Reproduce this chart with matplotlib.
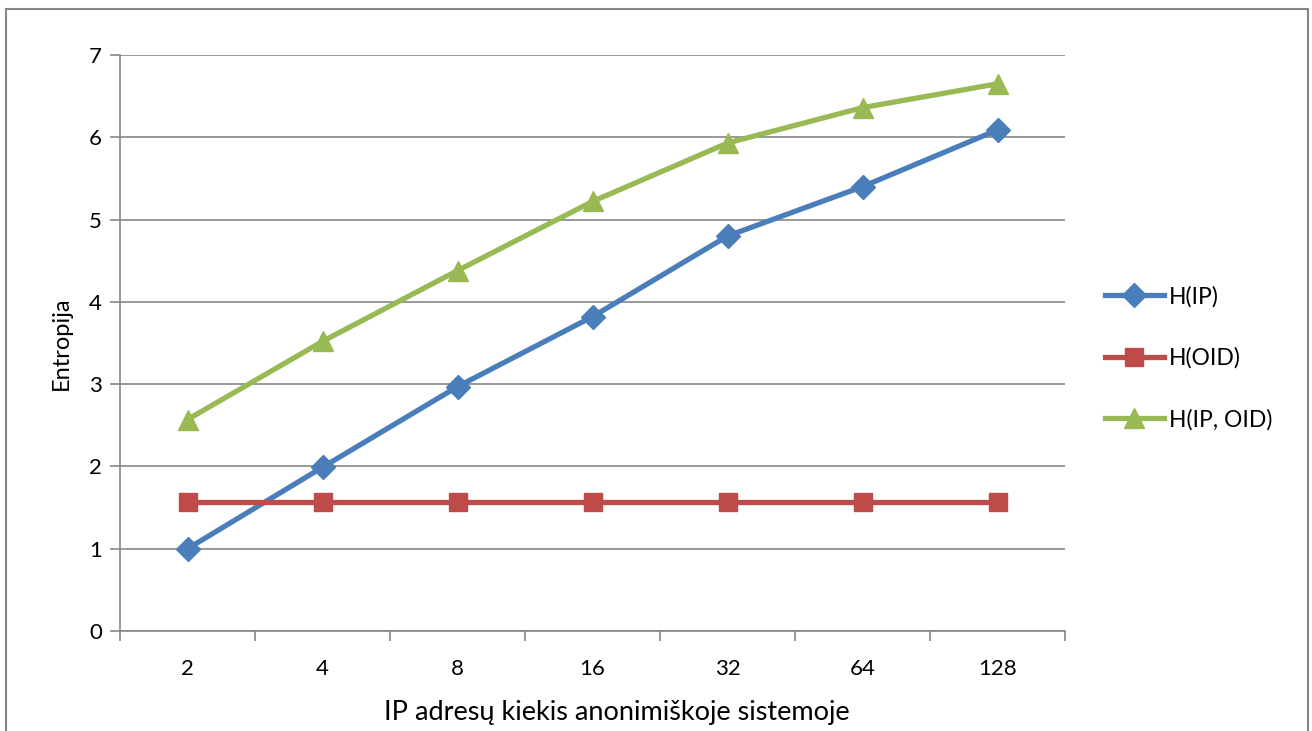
import matplotlib.pyplot as plt
from matplotlib.patches import Rectangle

plt.rcParams['font.family'] = ['Lato', 'DejaVu Sans']

ip_kiekis = ['2', '4', '8', '16', '32', '64', '128']
h_ip = [1.0, 1.99, 2.97, 3.82, 4.80, 5.40, 6.09]
h_oid = [1.57, 1.57, 1.57, 1.57, 1.57, 1.57, 1.57]
h_ip_oid = [2.57, 3.52, 4.38, 5.22, 5.93, 6.36, 6.65]

fig = plt.figure(figsize=(13.12, 7.31), dpi=100)
ax = fig.add_axes([0.0915, 0.1368, 0.7203, 0.788])

# chart border like Excel
fig.patches.append(Rectangle((6/1312, -0.05), 1302/1312, 1.05 - 9/731, transform=fig.transFigure,
                             fill=False, edgecolor='#868686', linewidth=1.5))

x = range(len(ip_kiekis))
ax.plot(x, h_ip, color='#4A7EBB', lw=3.8, marker='D', ms=12, label='H(IP)')
ax.plot(x, h_oid, color='#BE4B48', lw=3.8, marker='s', ms=13, label='H(OID)')
ax.plot(x, h_ip_oid, color='#98B954', lw=3.8, marker='^', ms=15, label='H(IP, OID)')

ax.set_xlim(-0.5, 6.5)
ax.set_ylim(0, 7)
ax.set_yticks(range(8))
ax.set_xticks(list(x))
ax.set_xticklabels(ip_kiekis)
ax.set_xticks([i - 0.5 for i in range(8)], minor=True)
ax.tick_params(axis='x', which='major', length=0, pad=20, labelsize=16)
ax.tick_params(axis='x', which='minor', length=7, color='#868686', width=1.2)
ax.tick_params(axis='y', length=7, color='#868686', width=1.2, labelsize=16, pad=6)
ax.grid(axis='y', color='#868686', lw=1.2)
ax.set_axisbelow(True)
for s in ['top', 'right']:
    ax.spines[s].set_visible(False)
for s in ['left', 'bottom']:
    ax.spines[s].set_color('#868686')
    ax.spines[s].set_linewidth(1.2)

ax.set_xlabel('IP adresų kiekis anonimiškoje sistemoje', fontsize=19.5, va='center')
ax.xaxis.set_label_coords(0.526, -0.142)
ax.set_ylabel('Entropija', fontsize=17, labelpad=12)

ax.legend(loc='center left', bbox_to_anchor=(1.02, 0.474), frameon=False, fontsize=16.5,
          labelspacing=1.75, handlelength=2.6, handletextpad=0.2)

fig.savefig('out.png', dpi=100)
